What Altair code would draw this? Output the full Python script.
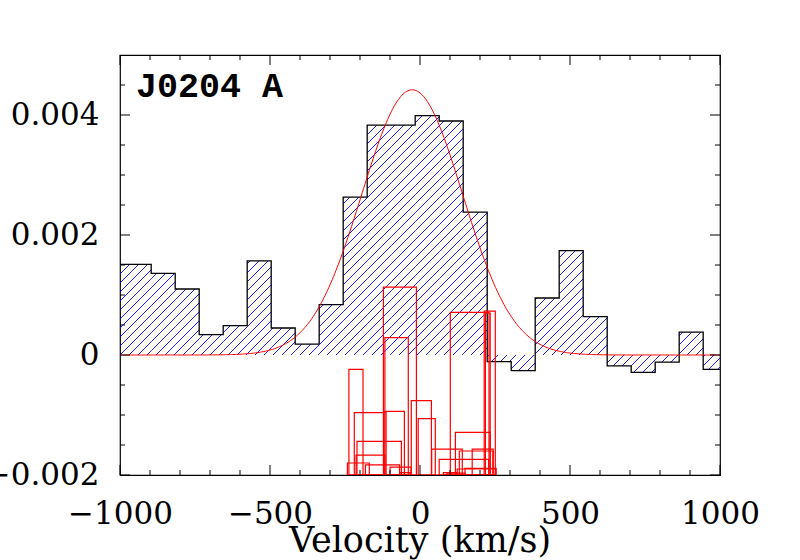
import math
import altair as alt
import numpy as np
import pandas as pd

# --- velocity histogram of J0204 A (bin edges in km/s, flux per bin) ---
bin_edges = [-1000, -896, -816, -736, -656, -576, -496, -416, -336, -256,
             -176, -96, -16, 64, 144, 224, 304, 384, 464, 544,
             624, 704, 784, 864, 944, 1000]
bin_flux = [0.00151, 0.00136, 0.00110, 0.00034, 0.00049, 0.00157, 0.00045,
            0.00018, 0.00084, 0.00263, 0.00383, 0.00383, 0.00399, 0.00390,
            0.00238, -0.00011, -0.00026, 0.00095, 0.00174, 0.00064,
            -0.00018, -0.00029, -0.00012, 0.00038, -0.00024]

# --- Gaussian fit to the line profile ---
fit_amp = 0.00442
fit_center = -26.0
fit_sigma = 168.0

# --- individual components drawn as open boxes from the bottom of the panel ---
comp_lo = [-237, -219, -210, -213, -242, -182, -122, -117, -120, -29, -6, -100,
           -67, 101, 214, 218, 118, 39, 64, 131, 174, 150, 124, 78, 90]
comp_hi = [-190, -113, -62, -117, -169, -68, -12, -39, -52, 38, 51, -30,
           -33, 230, 251, 234, 234, 141, 229, 243, 244, 254, 251, 122, 150]
comp_top = [-0.00024, -0.00096, -0.00144, -0.00167, -0.00180, -0.00183, 0.00113,
            0.00029, -0.00094, -0.00076, -0.00106, -0.00187, -0.00196, 0.00071,
            0.00073, 0.00070, -0.00129, -0.00157, -0.00174, -0.00160, -0.00157,
            -0.00189, -0.00190, -0.00196, -0.00197]

x_major = [-1000, -500, 0, 500, 1000]
x_minor = [-900, -800, -700, -600, -400, -300, -200, -100,
           100, 200, 300, 400, 600, 700, 800, 900]
y_major = [-0.002, 0.0, 0.002, 0.004]
y_minor = [-0.0015, -0.001, -0.0005, 0.0005, 0.001, 0.0015, 0.0025,
           0.003, 0.0035, 0.0045]

W, H = 600, 420
XDOM = [-1000, 1000]
YDOM = [-0.002, 0.005]
YBOTTOM = YDOM[0]

xscale = alt.Scale(domain=XDOM, nice=False, zero=False)
yscale = alt.Scale(domain=YDOM, nice=False, zero=False)

FONT = "DejaVu Serif"

# one axis definition per direction, shared by every layer so they merge cleanly
x_axis = alt.Axis(values=x_major, format="d", ticks=False, domain=False,
                  grid=False, labelPadding=24, labelFlush=False,
                  labelOverlap=False, title=None)
y_axis = alt.Axis(values=y_major,
                  labelExpr="datum.value == 0 ? '0' : format(datum.value, '.3f')",
                  ticks=False, domain=False, grid=False,
                  labelPadding=21, labelFlush=False, labelOverlap=False,
                  title=None)


def X(field):
    return alt.X(field, scale=xscale, axis=x_axis, title=None)


def Y(field):
    return alt.Y(field, scale=yscale, axis=y_axis, title=None)


# --- diagonal hatching of the histogram, clipped bin by bin ---
sx = W / (XDOM[1] - XDOM[0])
sy = H / (YDOM[1] - YDOM[0])
HATCH_GAP = 9.0
hatch = []
for lo, hi, f in zip(bin_edges[:-1], bin_edges[1:], bin_flux):
    X0 = (lo - XDOM[0]) * sx
    X1 = (hi - XDOM[0]) * sx
    ylo = min(0.0, f) * sy
    yhi = max(0.0, f) * sy
    k0 = math.ceil((X0 - yhi) / HATCH_GAP)
    k1 = math.floor((X1 - ylo) / HATCH_GAP)
    for k in range(k0, k1 + 1):
        c = k * HATCH_GAP
        xa = max(X0, ylo + c)
        xb = min(X1, yhi + c)
        if xb - xa > 0.3:
            hatch.append({"x": xa / sx + XDOM[0], "y": (xa - c) / sy,
                          "x2": xb / sx + XDOM[0], "y2": (xb - c) / sy})
hatch_df = pd.DataFrame(hatch)

# step outline: each bin's left edge carries its flux, closed at the last edge
outline_df = pd.DataFrame({
    "v": bin_edges,
    "f": bin_flux + [bin_flux[-1]],
})

vgrid = np.arange(XDOM[0], XDOM[1] + 1, 4.0)
fit_df = pd.DataFrame({
    "v": vgrid,
    "f": fit_amp * np.exp(-0.5 * ((vgrid - fit_center) / fit_sigma) ** 2),
})

comp_df = pd.DataFrame({"lo": comp_lo, "hi": comp_hi, "top": comp_top,
                        "bottom": [YBOTTOM] * len(comp_lo)})

hatch_layer = alt.Chart(hatch_df).mark_rule(
    color="#0000ff", strokeWidth=0.9, clip=True
).encode(x=X("x:Q"), y=Y("y:Q"), x2="x2:Q", y2="y2:Q")

outline_layer = alt.Chart(outline_df).mark_line(
    color="black", strokeWidth=1.3, interpolate="step-after", clip=True
).encode(x=X("v:Q"), y=Y("f:Q"))

fit_layer = alt.Chart(fit_df).mark_line(
    color="#ff0000", strokeWidth=1, clip=True
).encode(x=X("v:Q"), y=Y("f:Q"))

comp_layer = alt.Chart(comp_df).mark_rect(
    fillOpacity=0, stroke="#ff0000", strokeWidth=1.2, clip=True
).encode(x=X("lo:Q"), x2="hi:Q", y=Y("top:Q"), y2="bottom:Q")


def x_ticks(vals, length):
    df = pd.DataFrame({"v": vals})
    base = alt.Chart(df).mark_rule(color="black", strokeWidth=1)
    bottom = base.encode(x=X("v:Q"), y=alt.value(H), y2=alt.value(H - length))
    top = base.encode(x=X("v:Q"), y=alt.value(0), y2=alt.value(length))
    return [bottom, top]


def y_ticks(vals, length):
    df = pd.DataFrame({"v": vals})
    base = alt.Chart(df).mark_rule(color="black", strokeWidth=1)
    left = base.encode(y=Y("v:Q"), x=alt.value(0), x2=alt.value(length))
    right = base.encode(y=Y("v:Q"), x=alt.value(W), x2=alt.value(W - length))
    return [left, right]


label_layer = alt.Chart(pd.DataFrame({"t": ["J0204 A"]})).mark_text(
    font="Liberation Mono", fontSize=35, fontWeight="bold", color="black",
    align="left", baseline="alphabetic"
).encode(x=alt.value(16), y=alt.value(42), text="t:N")

# x-axis title, set below the tick labels
xtitle_layer = alt.Chart(pd.DataFrame({"t": ["Velocity (km/s)"]})).mark_text(
    font=FONT, fontSize=35, fontWeight="normal", color="black",
    align="center", baseline="alphabetic"
).encode(x=alt.value(W / 2), y=alt.value(H + 77), text="t:N")

layers = [hatch_layer, outline_layer, fit_layer, comp_layer]
layers += x_ticks(x_major, 10) + x_ticks(x_minor, 5)
layers += y_ticks(y_major, 10) + y_ticks(y_minor, 5)
layers += [label_layer, xtitle_layer]

chart = alt.layer(*layers).properties(
    width=W,
    height=H,
    autosize="none",
    padding={"left": 120, "top": 55, "right": 80, "bottom": 85},
    background="white",
).configure_view(
    stroke="black", strokeWidth=1.2
).configure_axis(
    labelFont=FONT, labelFontSize=31, labelColor="black",
)

chart.save("out.html", embed_options={"renderer": "svg", "actions": False})
